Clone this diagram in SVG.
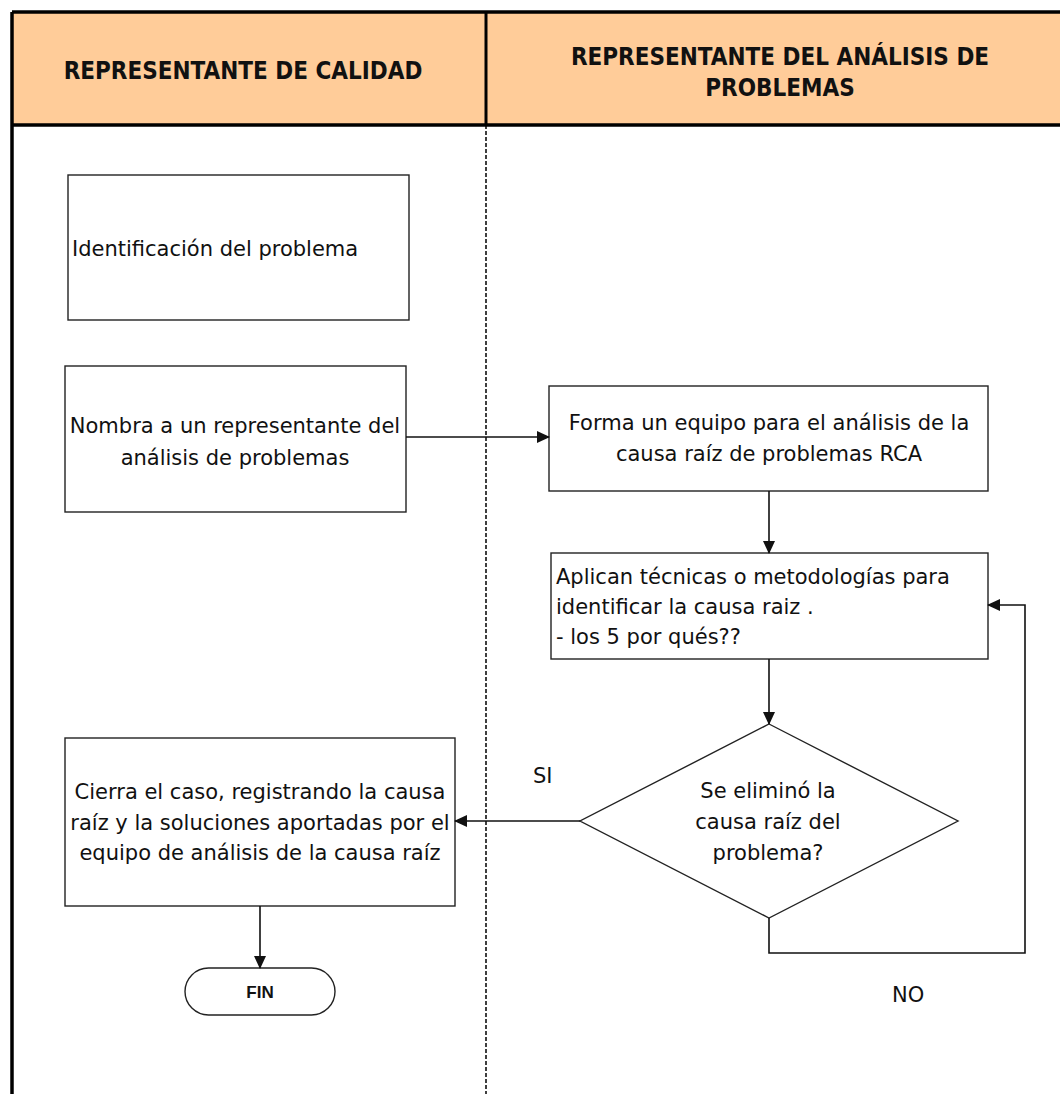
<svg xmlns="http://www.w3.org/2000/svg" width="1060" height="1094" viewBox="0 0 1060 1094">
<style>
.hdr{font-family:"DejaVu Sans Condensed","DejaVu Sans","Liberation Sans",sans-serif;font-stretch:condensed;font-weight:bold;font-size:24px;fill:#111;text-anchor:middle}
.box{fill:#fff;stroke:#222;stroke-width:1.4}
.t{font-family:"DejaVu Sans","Liberation Sans",sans-serif;font-size:21px;fill:#111}
.c{text-anchor:middle}
.ln{fill:none;stroke:#111;stroke-width:1.6}
</style>
<defs>
<marker id="ah" markerWidth="13" markerHeight="12" refX="12" refY="6" orient="auto" markerUnits="userSpaceOnUse">
<path d="M0,0 L13,6 L0,12 Z" fill="#111"/>
</marker>
</defs>
<rect width="1060" height="1094" fill="#fff"/>
<g id="header">
<rect x="12" y="12" width="1060" height="113" fill="#FFCC99"/>
<line x1="12" y1="12" x2="1060" y2="12" stroke="#000" stroke-width="3.5"/>
<line x1="12" y1="125" x2="1060" y2="125" stroke="#000" stroke-width="3.5"/>
<line x1="486" y1="12" x2="486" y2="125" stroke="#000" stroke-width="3"/>
<text class="hdr" x="243" y="79">REPRESENTANTE DE CALIDAD</text>
<text class="hdr" x="780" y="65">REPRESENTANTE DEL ANÁLISIS DE</text>
<text class="hdr" x="780" y="96">PROBLEMAS</text>
</g>
<g id="lanes">
<line x1="12" y1="12" x2="12" y2="1094" stroke="#000" stroke-width="3.5"/>
<line x1="486" y1="125" x2="486" y2="1094" stroke="#000" stroke-width="1.5" stroke-dasharray="4,2"/>
</g>
<g id="n1">
<rect class="box" x="68" y="175" width="341" height="145"/>
<text class="t" x="72" y="256">Identificación del problema</text>
</g>
<g id="n2">
<rect class="box" x="65" y="366" width="341" height="146"/>
<text class="t c" x="235" y="433">Nombra a un representante del</text>
<text class="t c" x="235" y="465">análisis de problemas</text>
</g>
<g id="n3">
<rect class="box" x="549" y="386" width="439" height="105"/>
<text class="t c" x="769" y="430">Forma un equipo para el análisis de la</text>
<text class="t c" x="769" y="461">causa raíz de problemas RCA</text>
</g>
<g id="n4">
<rect class="box" x="551" y="553" width="437" height="106"/>
<text class="t" x="556" y="584">Aplican técnicas o metodologías para</text>
<text class="t" x="556" y="614">identificar la causa raiz .</text>
<text class="t" x="556" y="644">- los 5 por qués??</text>
</g>
<g id="n5">
<polygon class="box" points="769,724 958,821 769,918 580,821"/>
<text class="t c" x="768" y="798">Se eliminó la</text>
<text class="t c" x="768" y="829">causa raíz del</text>
<text class="t c" x="768" y="860">problema?</text>
</g>
<g id="n6">
<rect class="box" x="65" y="738" width="390" height="168"/>
<text class="t c" x="260" y="799">Cierra el caso, registrando la causa</text>
<text class="t c" x="260" y="830">raíz y la soluciones aportadas por el</text>
<text class="t c" x="260" y="860">equipo de análisis de la causa raíz</text>
</g>
<g id="n7">
<rect class="box" x="185" y="968" width="150" height="47" rx="23.5"/>
<text x="260" y="998" font-family="'Liberation Sans',Arial,sans-serif" font-weight="bold" font-size="17" text-anchor="middle" fill="#111">FIN</text>
</g>
<g id="connectors">
<line class="ln" x1="406" y1="437" x2="549" y2="437" marker-end="url(#ah)"/>
<line class="ln" x1="769" y1="491" x2="769" y2="553" marker-end="url(#ah)"/>
<line class="ln" x1="769" y1="659" x2="769" y2="724" marker-end="url(#ah)"/>
<line class="ln" x1="580" y1="821" x2="455" y2="821" marker-end="url(#ah)"/>
<polyline class="ln" points="769,918 769,953 1025,953 1025,605 988,605" marker-end="url(#ah)"/>
<line class="ln" x1="260" y1="906" x2="260" y2="968" marker-end="url(#ah)"/>
<text class="t" x="533" y="783">SI</text>
<text class="t" x="892" y="1002">NO</text>
</g>
</svg>
